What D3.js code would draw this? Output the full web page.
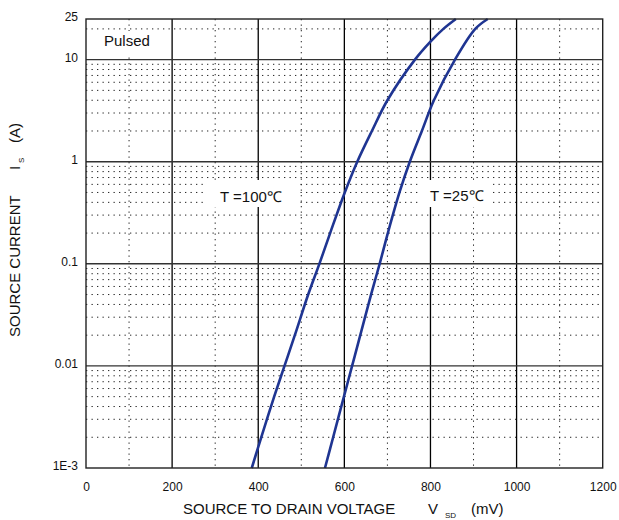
<!DOCTYPE html>
<html>
<head>
<meta charset="utf-8">
<script src="https://cdn.jsdelivr.net/npm/d3@7"></script>
<style>
  body { margin: 0; background: #fff; }
  svg { display: block; font-family: "Liberation Sans", Arial, sans-serif; }
</style>
</head>
<body>
<script>
// data
var xTicks = [0, 200, 400, 600, 800, 1000, 1200];
var yTicks = [0.001, 0.01, 0.1, 1, 10, 25];
var yTickLabels = ["1E-3", "0.01", "0.1", "1", "10", "25"];

var t100Is  = [0.001, 0.002, 0.005, 0.01, 0.02, 0.05, 0.1, 0.2, 0.5, 1, 2, 4, 10, 15, 20, 25];
var t100Vsd = [385, 407, 437, 461, 485, 516, 542, 567, 601, 630, 664, 700, 764, 800, 830, 859];
var t25Is   = [0.001, 0.002, 0.005, 0.01, 0.02, 0.05, 0.1, 0.2, 0.5, 1, 2, 4, 10, 20, 25];
var t25Vsd  = [555, 574, 599, 618, 637, 662, 682, 701, 728, 752, 780, 808, 857, 904, 933];

var W = 619, H = 520;
var m = {top: 19, right: 16.3, bottom: 52, left: 86};
var w = W - m.left - m.right, h = H - m.top - m.bottom;

var svg = d3.select('body').append('svg')
    .attr('width', W)
    .attr('height', H);
var g = svg.append('g').attr('transform', 'translate(' + m.left + ',' + m.top + ')');

var x = d3.scaleLinear().domain([0, 1200]).range([0, w]);
var y = d3.scaleLog().domain([0.001, 25]).range([h, 0]);

// minor grid lines (dotted)
var minorX = d3.range(100, 1200, 200);
var minorY = [];
[0.001, 0.01, 0.1, 1, 10].forEach(function (dec) {
    for (var k = 2; k <= 9; k++) {
        if (dec * k < 25) minorY.push(dec * k);
    }
});
g.selectAll('.minx').data(minorX).enter().append('line')
    .attr('x1', function (d) { return x(d); }).attr('x2', function (d) { return x(d); })
    .attr('y1', 0).attr('y2', h)
    .attr('stroke', '#222').attr('stroke-width', 1)
    .attr('stroke-dasharray', '1.3,4.2');
g.selectAll('.miny').data(minorY).enter().append('line')
    .attr('x1', 0).attr('x2', w)
    .attr('y1', function (d) { return y(d); }).attr('y2', function (d) { return y(d); })
    .attr('stroke', '#222').attr('stroke-width', 1)
    .attr('stroke-dasharray', '1.3,4.2');

// major grid lines
g.selectAll('.majx').data(xTicks.slice(1, -1)).enter().append('line')
    .attr('x1', function (d) { return x(d); }).attr('x2', function (d) { return x(d); })
    .attr('y1', 0).attr('y2', h)
    .attr('stroke', '#000').attr('stroke-width', 1.3);
g.selectAll('.majy').data([0.01, 0.1, 1, 10]).enter().append('line')
    .attr('x1', 0).attr('x2', w)
    .attr('y1', function (d) { return y(d); }).attr('y2', function (d) { return y(d); })
    .attr('stroke', '#333').attr('stroke-width', 1.4);

// white boxes behind the labels (they cut the grid)
var boxes = [[95, 31, 65, 23], [205, 180, 92, 27], [420, 180, 70, 27]];
svg.selectAll('.box').data(boxes).enter().append('rect')
    .attr('x', function (d) { return d[0]; }).attr('y', function (d) { return d[1]; })
    .attr('width', function (d) { return d[2]; }).attr('height', function (d) { return d[3]; })
    .attr('fill', '#fff');

// curves
var line = d3.line()
    .x(function (d) { return x(d[0]); })
    .y(function (d) { return y(d[1]); })
    .curve(d3.curveCatmullRom.alpha(0.5));
var series = [d3.zip(t100Vsd, t100Is), d3.zip(t25Vsd, t25Is)];
g.selectAll('.curve').data(series).enter().append('path')
    .attr('d', line)
    .attr('fill', 'none')
    .attr('stroke', '#1f3592')
    .attr('stroke-width', 2.6);

// frame
g.append('rect').attr('width', w).attr('height', h)
    .attr('fill', 'none').attr('stroke', '#222').attr('stroke-width', 1.4);

// axes (labels only)
var xAxis = g.append('g').attr('transform', 'translate(0,' + h + ')')
    .call(d3.axisBottom(x).tickValues(xTicks).tickSize(0).tickPadding(14)
        .tickFormat(d3.format('d')));
var yAxis = g.append('g')
    .call(d3.axisLeft(y).tickValues(yTicks).tickSize(0).tickPadding(8)
        .tickFormat(function (d, i) { return yTickLabels[i]; }));
[xAxis, yAxis].forEach(function (a) {
    a.select('.domain').remove();
    a.selectAll('text').attr('font-size', '12px').attr('fill', '#111')
        .attr('font-family', '"Liberation Sans", Arial, sans-serif');
});
yAxis.selectAll('text').attr('dy', '0.15em');

// axis titles
var xt = svg.append('text').attr('x', 183).attr('y', 514)
    .attr('font-size', '15px').attr('fill', '#111');
xt.append('tspan').text('SOURCE TO DRAIN VOLTAGE');
xt.append('tspan').attr('x', 428).text('V');
xt.append('tspan').attr('x', 445).attr('dy', 4).attr('font-size', '8px').text('SD');
xt.append('tspan').attr('x', 471).attr('dy', -4).text('(mV)');

var yt = svg.append('text').attr('transform', 'translate(20,337) rotate(-90)')
    .attr('font-size', '15px').attr('fill', '#111');
yt.append('tspan').attr('x', 0).text('SOURCE CURRENT');
yt.append('tspan').attr('x', 167).text('I');
yt.append('tspan').attr('x', 174).attr('dy', 4).attr('font-size', '8px').text('S');
yt.append('tspan').attr('x', 194).attr('dy', -4).text('(A)');

// labels on the plot
var notes = [[104, 46, 'Pulsed'], [220, 202, 'T =100℃'], [430, 201, 'T =25℃']];
svg.selectAll('.note').data(notes).enter().append('text')
    .attr('x', function (d) { return d[0]; }).attr('y', function (d) { return d[1]; })
    .attr('font-size', '15px').attr('fill', '#111')
    .text(function (d) { return d[2]; });
</script>
</body>
</html>
